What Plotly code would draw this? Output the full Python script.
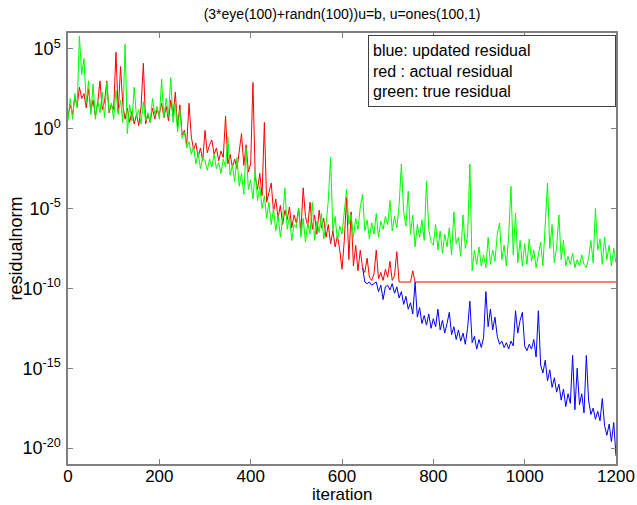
import numpy as np
import plotly.graph_objects as go

STEP = 5  # iterations between stored samples

# log10 of residual norms (one value every 5 iterations)
green_log = [
    0.5, 1.9, 0.6, 2.2, 1.3, 5.8, 3.4, 4.4, 1.6, 3.0, 0.9, 2.8, 0.6, 1.8, 1.0, 2.3, 0.7, 2.9, 1.1, 1.6,
    0.6, 2.4, 0.9, 1.8, 0.4, 5.3, -0.3, 1.5, 0.5, 2.6, 0.7, 1.2, 0.3, 1.7, 0.5, 1.0, 0.4, 1.9, 0.9, 1.4,
    0.6, 3.1, 0.7, 1.9, 0.8, 3.2, 0.4, 1.6, -0.2, 1.2, -0.6, -0.2, -1.2, -0.8, -1.6, -1.1, -2.2, -1.5, -2.5, -1.8,
    -2.0, -2.6, -1.9, -2.4, -1.6, -2.5, -2.1, -2.8, -1.9, -2.4, -0.5, -2.9, -2.3, -3.3, -1.8, -3.6, -2.8, -4.1, -1.2, -3.8,
    -3.2, -4.4, -2.6, -4.5, -3.6, -5.0, -4.2, -5.6, -4.6, -6.0, -5.0, -6.4, -5.4, -6.8, -5.6, -3.7, -6.3, -5.5, -7.0, -6.0,
    -6.2, -5.0, -6.8, -5.6, -7.1, -5.9, -6.6, -4.6, -7.0, -5.8, -6.5, -5.3, -6.9, -6.0, -4.5, -1.8, -6.4, -5.5, -7.0, -6.1,
    -6.6, -5.2, -3.8, -6.0, -5.4, -6.8, -5.6, -6.3, -4.9, -4.1, -6.4, -5.7, -6.9, -5.9, -6.6, -5.3, -6.8, -5.8, -6.3, -5.5,
    -6.0, -4.5, -6.4, -5.5, -6.2, -4.8, -2.2, -5.2, -6.1, -3.9, -6.6, -5.4, -7.4, -6.0, -6.8, -5.7, -7.0, -3.3, -6.3, -7.1,
    -7.3, -6.0, -7.6, -6.4, -7.8, -6.6, -7.4, -6.2, -7.9, -5.2, -7.2, -6.8, -8.0, -5.4, -7.5, -6.7, -2.2, -8.9, -7.6, -8.5,
    -7.4, -8.6, -7.9, -8.7, -6.8, -8.5, -7.6, -8.3, -6.6, -5.9, -8.2, -7.3, -8.6, -6.7, -3.6, -7.9, -5.3, -8.4, -7.0, -8.6,
    -7.2, -8.5, -6.9, -8.3, -7.6, -8.7, -8.0, -7.1, -8.6, -6.2, -3.4, -7.5, -6.0, -8.4, -7.4, -5.4, -8.2, -7.0, -8.6, -8.0,
    -8.5, -7.8, -8.7, -8.2, -8.6, -7.9, -8.5, -8.7, -8.1, -7.0, -8.4, -5.0, -7.6, -6.9, -8.5, -6.8, -8.2, -7.3, -8.6, -7.5, -8.4,
]

red_log = [
    0.8, 1.5, 0.9, 2.0, 1.4, 2.6, 1.9, 2.2, 1.3, 2.5, 1.1, 1.8, 0.8, 1.6, 3.0, 1.2, 1.7, 3.0, 1.0, 1.5,
    1.2, 4.8, 1.0, 3.9, 1.5, 0.6, 1.3, 0.4, 1.1, 0.3, 0.9, 0.2, 1.4, 4.1, 0.3, 0.9, 0.4, 1.3, 0.6, 1.2,
    0.9, 1.6, 0.7, 1.4, 0.5, 1.8, 0.8, 2.3, 0.1, 1.5, -0.4, -0.1, -1.0, 1.6, -0.5, -1.3, -0.9, -1.8, -1.2, -2.0,
    -0.1, -1.5, -1.0, -0.7, -1.6, -1.2, -2.0, -1.4, -1.8, 0.8, -2.2, -1.6, -2.4, -1.9, -2.5, -1.5, -0.3, -2.3, -1.0, -2.7,
    -2.2, 2.9, -3.0, -3.8, -2.8, -4.2, 0.4, -4.6, -3.9, -3.4, -5.2, -4.4, -5.6, -4.8, -6.0, -5.1, -5.7, -4.9, -6.2, -5.4,
    -5.9, -5.0, -6.4, -3.7, -5.5, -6.1, -4.6, -6.3, -5.4, -6.6, -5.1, -6.2, -5.6, -6.8, -6.0, -7.2, -6.4, -7.4, -6.7, -7.6,
    -8.8, -7.0, -4.3, -8.2, -5.2, -8.6, -7.3, -8.9, -7.6, -8.7, -9.0, -8.1, -9.3, -9.5, -9.1, -7.6, -9.4, -9.0, -9.5, -8.8,
    -9.3, -8.3, -9.5, -9.2, -7.7, -9.6, -9.6, -9.6, -9.6, -9.6, -9.6, -8.9, -9.6,
]
red_floor_log = -9.6      # actual residual stagnates here
last_iter = 1200

blue_start = 645
blue_log = [
    -8.7, -9.6, -9.7, -9.6, -9.8, -9.7, -9.6, -10.2, -9.8, -10.7, -9.9,
    -9.8, -10.1, -9.7, -10.3, -9.9, -10.6, -10.2, -11.0, -10.5, -11.3, -10.9, -11.6, -9.6, -11.8, -11.2, -12.2, -11.7, -12.3, -11.6, -12.5,
    -11.9, -12.4, -11.3, -12.6, -12.0, -12.8, -12.2, -11.5, -12.9, -12.4, -13.2, -12.6, -13.3, -12.8, -13.5, -12.5, -10.8, -13.4, -13.0, -13.8,
    -13.2, -13.7, -13.1, -10.2, -12.4, -11.3, -12.6, -11.8, -13.0, -13.5, -13.3, -13.7, -13.4, -13.8, -13.3, -13.6, -11.4, -12.8, -12.0, -11.5,
    -13.6, -13.9, -13.5, -13.8, -13.2, -14.3, -11.4, -14.8, -15.3, -14.5, -15.8, -15.1, -16.2, -15.6, -16.5, -16.0, -17.0, -16.3, -17.4, -16.6,
    -17.2, -14.2, -17.6, -15.0, -17.3, -16.6, -17.8, -14.2, -17.0, -17.9, -17.5, -18.2, -17.7, -18.3, -16.9, -18.6, -19.2, -18.5, -19.6, -18.4, -20.5,
]

x_ticks = [0, 200, 400, 600, 800, 1000, 1200]
y_tick_exp = [-20, -15, -10, -5, 0, 5]
title_text = "(3*eye(100)+randn(100))u=b, u=ones(100,1)"
x_title = "iteration"
y_title = "residualnorm"
legend_lines = ["blue: updated residual", "red : actual residual", "green: true residual"]

green_x = np.arange(len(green_log)) * STEP
red_x = list(np.arange(len(red_log)) * STEP) + [last_iter]
red_y = list(red_log) + [red_floor_log]
blue_x = blue_start + np.arange(len(blue_log)) * STEP

fig = go.Figure()
fig.add_trace(go.Scatter(x=blue_x, y=10.0 ** np.array(blue_log), mode="lines",
                         line=dict(color="#0000FF", width=1)))
fig.add_trace(go.Scatter(x=red_x, y=10.0 ** np.array(red_y), mode="lines",
                         line=dict(color="#FF0000", width=1)))
fig.add_trace(go.Scatter(x=green_x, y=10.0 ** np.array(green_log), mode="lines",
                         line=dict(color="#00FF00", width=1)))

W, H = 637, 505
L, R, T, B = 68, 21, 33, 41
PW, PH = W - L - R, H - T - B

axis_gray = "#808080"
fig.update_layout(
    width=W, height=H,
    margin=dict(l=L, r=R, t=T, b=B, autoexpand=False),
    paper_bgcolor="white", plot_bgcolor="white",
    showlegend=False,
    font=dict(family="Liberation Sans, Arial, sans-serif", size=17, color="black"),
    title=dict(text=title_text, xref="paper", x=0.5, xanchor="center",
               yref="container", y=1 - 14 / H, yanchor="middle",
               font=dict(size=14, color="black")),
)
fig.update_xaxes(range=[0, 1200], tickmode="array", tickvals=x_ticks,
                 ticktext=[str(v) for v in x_ticks], automargin=False,
                 ticks="inside", ticklen=5, tickcolor=axis_gray, tickwidth=1,
                 showline=True, linecolor=axis_gray, linewidth=1.5, mirror="ticks",
                 showgrid=False, zeroline=False, tickfont=dict(size=17),
                 ticklabelstandoff=-4)
fig.update_yaxes(type="log", range=[-21, 6], tickmode="array",
                 tickvals=[10.0 ** e for e in y_tick_exp],
                 ticktext=[f"10<sup>{e}</sup>" for e in y_tick_exp], automargin=False,
                 ticks="inside", ticklen=5, tickcolor=axis_gray, tickwidth=1,
                 showline=True, linecolor=axis_gray, linewidth=1.5, mirror="ticks",
                 showgrid=False, zeroline=False, tickfont=dict(size=18),
                 ticklabelstandoff=2)

# axis titles placed as annotations (paper coordinates relative to plot area)
fig.add_annotation(xref="paper", yref="paper", x=0.5, y=-(494 - (T + PH)) / PH,
                   xanchor="center", yanchor="middle", showarrow=False,
                   text=x_title, font=dict(size=17, color="black"))
fig.add_annotation(xref="paper", yref="paper", x=-(L - 15) / PW, y=0.5,
                   xanchor="center", yanchor="middle", showarrow=False,
                   textangle=-90, text=y_title, font=dict(size=18, color="black"))

fig.add_annotation(xref="paper", yref="paper", x=1.0, y=1 - 2 / PH,
                   xanchor="right", yanchor="top", showarrow=False,
                   text="<br>".join(legend_lines), align="left",
                   font=dict(size=16, color="black"),
                   bgcolor="white", bordercolor="#404040", borderwidth=1,
                   borderpad=4, width=238, height=62)

fig.write_html("out.html")
